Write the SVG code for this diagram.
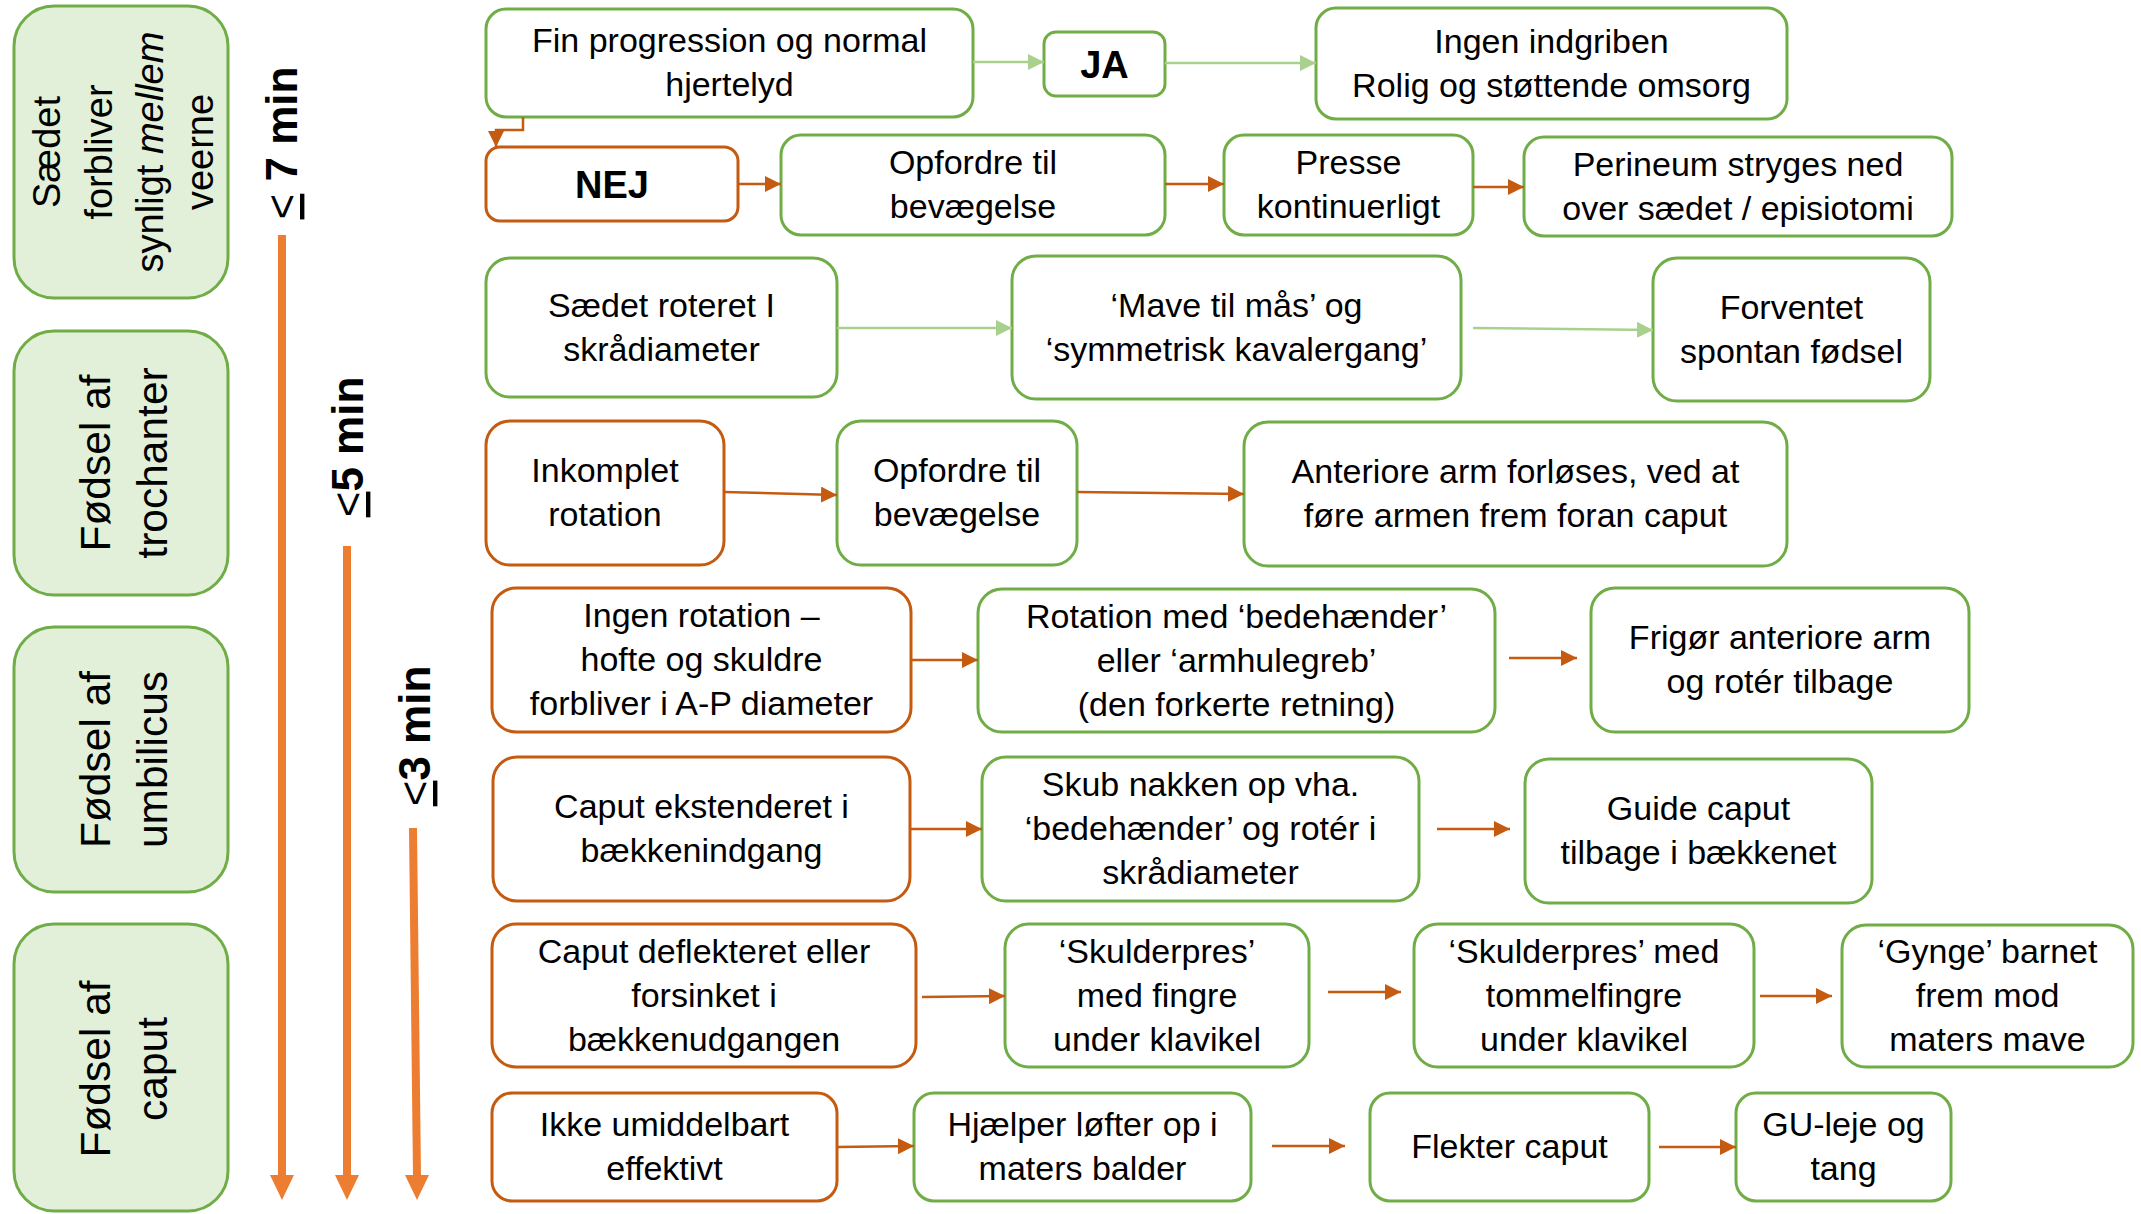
<svg xmlns="http://www.w3.org/2000/svg" width="2141" height="1214" viewBox="0 0 2141 1214">
<style>
text{font-family:"Liberation Sans",Arial,sans-serif;fill:#000;}
.t{font-size:34px;text-anchor:middle;}
.b{font-size:38px;font-weight:bold;text-anchor:middle;}
.ph{font-size:42.5px;text-anchor:middle;}
.pa{font-size:38px;text-anchor:middle;}
.tm{font-size:44px;text-anchor:middle;}
.g{fill:#fff;stroke:#70AD47;stroke-width:3;}
.o{fill:#fff;stroke:#C55A11;stroke-width:3;}
.p{fill:#E2F0D9;stroke:#70AD47;stroke-width:3;}
.co{fill:none;stroke:#C55A11;stroke-width:2.5;marker-end:url(#ao);}
.cg{fill:none;stroke:#A9D18E;stroke-width:2.5;marker-end:url(#ag);}
.ct{fill:none;stroke:#ED7D31;stroke-width:8;}
</style>
<defs>
<marker id="ao" markerUnits="userSpaceOnUse" markerWidth="16" markerHeight="16" viewBox="0 0 16 16" refX="16" refY="8" orient="auto"><path d="M0,0 L16,8 L0,16 z" fill="#C55A11"/></marker>
<marker id="ag" markerUnits="userSpaceOnUse" markerWidth="16" markerHeight="16" viewBox="0 0 16 16" refX="16" refY="8" orient="auto"><path d="M0,0 L16,8 L0,16 z" fill="#A9D18E"/></marker>
</defs>

<g id="phase-saedet"><rect class="p" x="14" y="6" width="214" height="292" rx="40"/>
<text class="pa" transform="translate(121,152) rotate(-90)"><tspan x="0" y="-61">Sædet</tspan><tspan x="0" y="-9">forbliver</tspan><tspan x="0" y="42">synligt <tspan font-style="italic">mellem</tspan></tspan><tspan x="0" y="92">veerne</tspan></text></g>
<g id="phase-trochanter"><rect class="p" x="14" y="331" width="214" height="264" rx="40"/>
<text class="ph" transform="translate(121,463) rotate(-90)"><tspan x="0" y="-11">Fødsel af</tspan><tspan x="0" y="46">trochanter</tspan></text></g>
<g id="phase-umbilicus"><rect class="p" x="14" y="627" width="214" height="265" rx="40"/>
<text class="ph" transform="translate(121,759.5) rotate(-90)"><tspan x="0" y="-11">Fødsel af</tspan><tspan x="0" y="46">umbilicus</tspan></text></g>
<g id="phase-caput"><rect class="p" x="14" y="924" width="214" height="287" rx="40"/>
<text class="ph" transform="translate(121,1069) rotate(-90)"><tspan x="0" y="-11">Fødsel af</tspan><tspan x="0" y="46">caput</tspan></text></g>

<g id="time-7"><text class="tm" transform="translate(297,143) rotate(-90)"><tspan text-decoration="underline">&lt;</tspan><tspan font-weight="bold"> 7 min</tspan></text></g>
<g id="time-5"><text class="tm" transform="translate(363,447) rotate(-90)"><tspan text-decoration="underline">&lt;</tspan><tspan font-weight="bold">5 min</tspan></text></g>
<g id="time-3"><text class="tm" transform="translate(430,736) rotate(-90)"><tspan text-decoration="underline">&lt;</tspan><tspan font-weight="bold">3 min</tspan></text></g>

<g id="n-fin"><rect class="g" x="486" y="9" width="487" height="108" rx="20"/><text class="t"><tspan x="729.5" y="52">Fin progression og normal</tspan><tspan x="729.5" y="96">hjertelyd</tspan></text></g>
<g id="n-ja"><rect class="g" x="1044" y="32" width="121" height="64" rx="12"/><text class="b" x="1104.5" y="77.5">JA</text></g>
<g id="n-ingen"><rect class="g" x="1316" y="8" width="471" height="111" rx="20"/><text class="t"><tspan x="1551.5" y="52.5">Ingen indgriben</tspan><tspan x="1551.5" y="96.5">Rolig og støttende omsorg</tspan></text></g>
<g id="n-nej"><rect class="o" x="486" y="147" width="252" height="74" rx="14"/><text class="b" x="612" y="197.5">NEJ</text></g>
<g id="n-opf1"><rect class="g" x="781" y="135" width="384" height="100" rx="20"/><text class="t"><tspan x="973" y="174">Opfordre til</tspan><tspan x="973" y="218">bevægelse</tspan></text></g>
<g id="n-presse"><rect class="g" x="1224" y="135" width="249" height="100" rx="20"/><text class="t"><tspan x="1348.5" y="174">Presse</tspan><tspan x="1348.5" y="218">kontinuerligt</tspan></text></g>
<g id="n-perineum"><rect class="g" x="1524" y="137" width="428" height="99" rx="20"/><text class="t"><tspan x="1738" y="175.5">Perineum stryges ned</tspan><tspan x="1738" y="219.5">over sædet / episiotomi</tspan></text></g>

<g id="n-saedet-roteret"><rect class="g" x="486" y="258" width="351" height="139" rx="24"/><text class="t"><tspan x="661.5" y="316.5">Sædet roteret I</tspan><tspan x="661.5" y="360.5">skrådiameter</tspan></text></g>
<g id="n-mave"><rect class="g" x="1012" y="256" width="449" height="143" rx="24"/><text class="t"><tspan x="1236.5" y="316.5">‘Mave til mås’ og</tspan><tspan x="1236.5" y="360.5">‘symmetrisk kavalergang’</tspan></text></g>
<g id="n-forventet"><rect class="g" x="1653" y="258" width="277" height="143" rx="24"/><text class="t"><tspan x="1791.5" y="318.5">Forventet</tspan><tspan x="1791.5" y="362.5">spontan fødsel</tspan></text></g>

<g id="n-inkomplet"><rect class="o" x="486" y="421" width="238" height="144" rx="24"/><text class="t"><tspan x="605" y="482">Inkomplet</tspan><tspan x="605" y="526">rotation</tspan></text></g>
<g id="n-opf2"><rect class="g" x="837" y="421" width="240" height="144" rx="24"/><text class="t"><tspan x="957" y="482">Opfordre til</tspan><tspan x="957" y="526">bevægelse</tspan></text></g>
<g id="n-anteriore"><rect class="g" x="1244" y="422" width="543" height="144" rx="24"/><text class="t"><tspan x="1515.5" y="483">Anteriore arm forløses, ved at</tspan><tspan x="1515.5" y="527">føre armen frem foran caput</tspan></text></g>

<g id="n-ingen-rotation"><rect class="o" x="492" y="588" width="419" height="144" rx="24"/><text class="t"><tspan x="701.5" y="627">Ingen rotation –</tspan><tspan x="701.5" y="671">hofte og skuldre</tspan><tspan x="701.5" y="715">forbliver i A-P diameter</tspan></text></g>
<g id="n-rotation-med"><rect class="g" x="978" y="589" width="517" height="143" rx="24"/><text class="t"><tspan x="1236.5" y="627.5">Rotation med ‘bedehænder’</tspan><tspan x="1236.5" y="671.5">eller ‘armhulegreb’</tspan><tspan x="1236.5" y="715.5">(den forkerte retning)</tspan></text></g>
<g id="n-frigor"><rect class="g" x="1591" y="588" width="378" height="144" rx="24"/><text class="t"><tspan x="1780" y="649">Frigør anteriore arm</tspan><tspan x="1780" y="693">og rotér tilbage</tspan></text></g>

<g id="n-caput-ekst"><rect class="o" x="493" y="757" width="417" height="144" rx="24"/><text class="t"><tspan x="701.5" y="818">Caput ekstenderet i</tspan><tspan x="701.5" y="862">bækkenindgang</tspan></text></g>
<g id="n-skub"><rect class="g" x="982" y="757" width="437" height="144" rx="24"/><text class="t"><tspan x="1200.5" y="796">Skub nakken op vha.</tspan><tspan x="1200.5" y="840">‘bedehænder’ og rotér i</tspan><tspan x="1200.5" y="884">skrådiameter</tspan></text></g>
<g id="n-guide"><rect class="g" x="1525" y="759" width="347" height="144" rx="24"/><text class="t"><tspan x="1698.5" y="820">Guide caput</tspan><tspan x="1698.5" y="864">tilbage i bækkenet</tspan></text></g>

<g id="n-caput-defl"><rect class="o" x="492" y="924" width="424" height="143" rx="24"/><text class="t"><tspan x="704" y="962.5">Caput deflekteret eller</tspan><tspan x="704" y="1006.5">forsinket i</tspan><tspan x="704" y="1050.5">bækkenudgangen</tspan></text></g>
<g id="n-skulder1"><rect class="g" x="1005" y="924" width="304" height="143" rx="24"/><text class="t"><tspan x="1157" y="962.5">‘Skulderpres’</tspan><tspan x="1157" y="1006.5">med fingre</tspan><tspan x="1157" y="1050.5">under klavikel</tspan></text></g>
<g id="n-skulder2"><rect class="g" x="1414" y="924" width="340" height="143" rx="24"/><text class="t"><tspan x="1584" y="962.5">‘Skulderpres’ med</tspan><tspan x="1584" y="1006.5">tommelfingre</tspan><tspan x="1584" y="1050.5">under klavikel</tspan></text></g>
<g id="n-gynge"><rect class="g" x="1842" y="925" width="291" height="142" rx="24"/><text class="t"><tspan x="1987.5" y="963">‘Gynge’ barnet</tspan><tspan x="1987.5" y="1007">frem mod</tspan><tspan x="1987.5" y="1051">maters mave</tspan></text></g>

<g id="n-ikke"><rect class="o" x="492" y="1093" width="345" height="108" rx="20"/><text class="t"><tspan x="664.5" y="1136">Ikke umiddelbart</tspan><tspan x="664.5" y="1180">effektivt</tspan></text></g>
<g id="n-hjaelper"><rect class="g" x="914" y="1093" width="337" height="108" rx="20"/><text class="t"><tspan x="1082.5" y="1136">Hjælper løfter op i</tspan><tspan x="1082.5" y="1180">maters balder</tspan></text></g>
<g id="n-flekter"><rect class="g" x="1370" y="1093" width="279" height="108" rx="20"/><text class="t" x="1509.5" y="1158">Flekter caput</text></g>
<g id="n-gu"><rect class="g" x="1736" y="1093" width="215" height="108" rx="20"/><text class="t"><tspan x="1843.5" y="1136">GU-leje og</tspan><tspan x="1843.5" y="1180">tang</tspan></text></g>

<g id="connectors">
<path class="ct" d="M282,235 V1177"/><path d="M270,1175 L294,1175 L282,1200 z" fill="#ED7D31"/>
<path class="ct" d="M347,546 V1177"/><path d="M335,1175 L359,1175 L347,1200 z" fill="#ED7D31"/>
<path class="ct" d="M413,828 L417,1177"/><path d="M405,1175 L429,1175 L417,1200 z" fill="#ED7D31"/>
<path class="cg" d="M973,62 H1044"/>
<path class="cg" d="M1165,63 H1316"/>
<path class="co" d="M523,117 V130 H496 V147"/>
<path class="co" d="M738,184 H781"/>
<path class="co" d="M1165,184 H1224"/>
<path class="co" d="M1473,187 H1524"/>
<path class="cg" d="M837,328 H1012"/>
<path class="cg" d="M1473,328 L1653,330"/>
<path class="co" d="M724,492 L837,495"/>
<path class="co" d="M1077,492 L1244,494"/>
<path class="co" d="M911,660 H978"/>
<path class="co" d="M1509,658 H1577"/>
<path class="co" d="M910,829 H982"/>
<path class="co" d="M1437,829 H1510"/>
<path class="co" d="M922,997 L1005,996"/>
<path class="co" d="M1328,992 H1401"/>
<path class="co" d="M1760,996 H1832"/>
<path class="co" d="M837,1147 L914,1146"/>
<path class="co" d="M1272,1146 H1345"/>
<path class="co" d="M1659,1147 H1736"/>
</g>
</svg>
